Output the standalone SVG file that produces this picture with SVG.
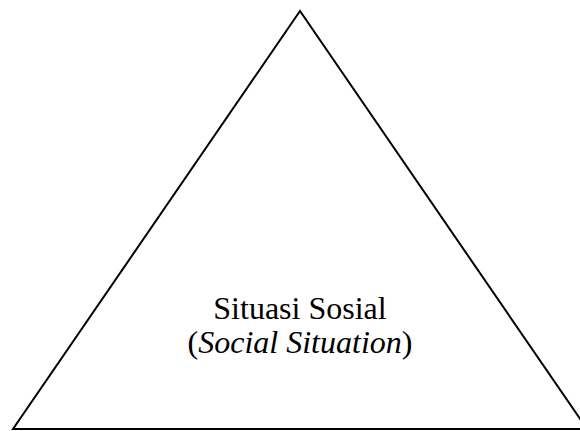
<svg xmlns="http://www.w3.org/2000/svg" width="580" height="431" viewBox="0 0 580 431">
<style>
.shape{fill:#fff;stroke:#000;stroke-width:2;stroke-linejoin:miter}
.lbl{font-family:"Liberation Serif","Times New Roman",serif;font-size:32px;fill:#000;text-anchor:middle}
</style>
<rect width="580" height="431" fill="#fff"/>
<g id="node-social-situation">
<polygon class="shape" points="300,11 13,429 587,429"/>
<text class="lbl" x="300" y="319">Situasi Sosial</text>
<text class="lbl" x="300" y="353">(<tspan font-style="italic">Social Situation</tspan>)</text>
</g>
<g id="connectors"/>
</svg>
